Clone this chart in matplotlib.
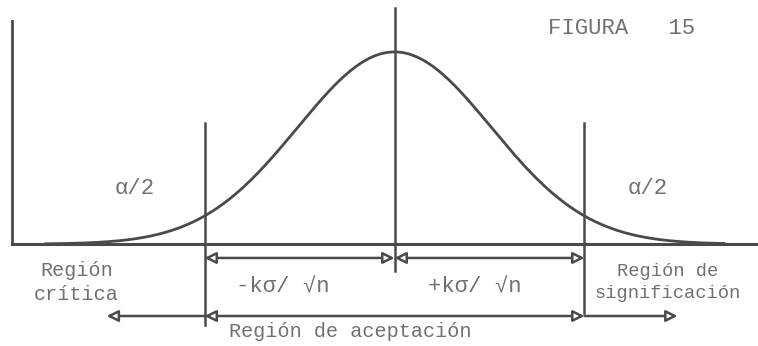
"""
Two-tailed test: normal curve of the sample mean with critical and
acceptance regions marked off by +/- k sigma / sqrt(n).
"""

import matplotlib.pyplot as plt
import numpy as np

width, height = 7.58, 3.46

# curve drawn in standard units (z), critical value k
z_span = [-3.6, 3.4]
k_crit = 1.96
tail_label = "α/2"
left_region = "Región\ncrítica"
right_region = "Región de\nsignificación"
middle_region = "Región de aceptación"
half_widths = ["-kσ/ √n", "+kσ/ √n"]
title = "FIGURA   15"

ink = "#4a4a4a"
type_ink = "#707070"
font = ["Liberation Mono", "DejaVu Sans Mono"]


def arrow(ax, x0, x1, y, style):
    ax.annotate("", xy=(x1, y), xytext=(x0, y),
                arrowprops=dict(arrowstyle=style, color=ink, lw=1.8,
                                fc="white", mutation_scale=17,
                                shrinkA=0, shrinkB=0))


def draw_figure():
    fig = plt.figure(figsize=(width, height), dpi=100)
    ax = fig.add_axes([0, 0, 1, 1])
    ax.axis("off")
    ax.set_xlim(-4.07, 3.75)
    ax.set_ylim(-0.53, 1.27)

    z = np.linspace(z_span[0], z_span[1], 400)
    ax.plot(z, np.exp(-z ** 2 / 2), color=ink, lw=2)

    # axes of the sketch
    left = -3.95
    ax.plot([left, 3.75], [0, 0], color=ink, lw=2.2)
    ax.plot([left, left], [0, 1.16], color=ink, lw=2)
    ax.plot([0, 0], [-0.14, 1.23], color=ink, lw=1.8)
    ax.plot([-k_crit, -k_crit], [-0.42, 0.63], color=ink, lw=1.8)
    ax.plot([k_crit, k_crit], [-0.36, 0.63], color=ink, lw=1.8)

    # +/- k sigma / sqrt(n)
    y1 = -0.072
    arrow(ax, -k_crit, 0, y1, "<|-|>")
    arrow(ax, 0, k_crit, y1, "<|-|>")

    # critical / acceptance regions
    y2 = -0.374
    arrow(ax, -k_crit, -2.97, y2, "-|>")
    arrow(ax, -k_crit, k_crit, y2, "<|-|>")
    arrow(ax, k_crit, 2.92, y2, "-|>")

    txt = dict(color=type_ink, family=font, ha="center", va="center")
    ax.text(-2.68, 0.29, tail_label, fontsize=16, **txt)
    ax.text(2.61, 0.29, tail_label, fontsize=16, **txt)
    ax.text(-3.28, -0.20, left_region, fontsize=14.5, linespacing=1.3, **txt)
    ax.text(2.82, -0.20, right_region, fontsize=13.5, linespacing=1.4, **txt)
    ax.text(-1.15, -0.223, half_widths[0], fontsize=16, **txt)
    ax.text(0.83, -0.223, half_widths[1], fontsize=16, **txt)
    ax.text(-0.46, -0.457, middle_region, fontsize=14.5, **txt)
    ax.text(1.58, 1.124, title, fontsize=16, color=type_ink, family=font,
            ha="left", va="center")

    fig.savefig("out.png", dpi=100, facecolor="white")


def main():
    draw_figure()


if __name__ == '__main__':
    main()
